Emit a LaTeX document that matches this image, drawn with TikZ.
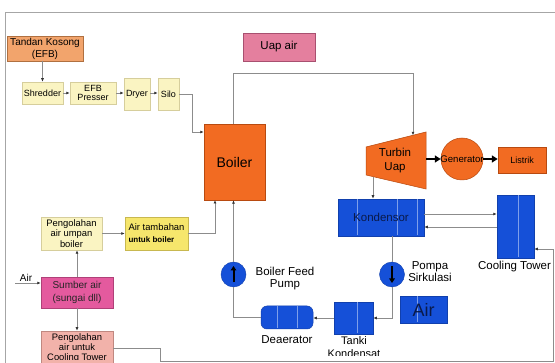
\documentclass[tikz,border=0pt]{standalone}
\usepackage{fontspec}
\setmainfont{Liberation Sans}
\usetikzlibrary{arrows.meta}
\definecolor{tandanC}{HTML}{F2A46C}
\definecolor{tandanD}{HTML}{B07040}
\definecolor{lyelC}{HTML}{FAF4C2}
\definecolor{lyelD}{HTML}{D6CE9C}
\definecolor{yelC}{HTML}{F6E66C}
\definecolor{yelD}{HTML}{C8B850}
\definecolor{uapC}{HTML}{E47F9E}
\definecolor{uapD}{HTML}{A85070}
\definecolor{orC}{HTML}{F26B22}
\definecolor{orD}{HTML}{B84A10}
\definecolor{blC}{HTML}{1550D8}
\definecolor{magC}{HTML}{E45A9E}
\definecolor{magD}{HTML}{B04078}
\definecolor{salC}{HTML}{F2B2AA}
\definecolor{salD}{HTML}{C08880}
\definecolor{lineC}{HTML}{8C8C8C}
\definecolor{navyT}{HTML}{0A1A4A}
\begin{document}
\begin{tikzpicture}[x=1pt,y=-1pt,
  box/.style={rectangle, inner sep=0pt, align=center, line width=0.5pt},
  lyel/.style={box, fill=lyelC, draw=lyelD},
  blu/.style={box, fill=blC, draw=blC!80!black, text=navyT},
  ora/.style={box, fill=orC, draw=orD},
  fa/.style={font=\fontsize{9}{10}\selectfont},
  fb/.style={font=\fontsize{10}{12}\selectfont},
  lbl/.style={inner sep=0pt, align=center, font=\fontsize{11.5}{12}\selectfont},
  conn/.style={draw=lineC, line width=0.7pt, -{Latex[length=3.5pt,width=3pt,color=black!80]}},
  pline/.style={draw=lineC, line width=0.7pt},
  seam/.style={draw=blC!55!white, line width=0.4pt},
  thickarr/.style={draw=black, line width=1.8pt, -{Triangle[length=6pt,width=7pt]}},
  pumpc/.style={circle, fill=blC, draw=blC!80!black, minimum size=25pt, inner sep=0pt},
  pumparr/.style={draw=black, line width=2pt, -{Triangle[length=4.5pt,width=5.5pt]}}
]
\useasboundingbox (0,0) rectangle (555,363);
\clip (0,0) rectangle (555,363);
\fill[white] (0,0) rectangle (555,363);
% frame
\draw[draw=gray!70, line width=0.8pt] (5,363) -- (5,12) -- (555,12);

% feed line
\node[box, fill=tandanC, draw=tandanD, minimum width=76, minimum height=25, fb] (tandan) at (45,48.5) {Tandan Kosong\\(EFB)};
\node[lyel, minimum width=41, minimum height=22, fa] (shred) at (42.5,93) {Shredder};
\node[lyel, minimum width=46, minimum height=22, font=\fontsize{9}{9.5}\selectfont] (presser) at (93,93) {EFB\\Presser};
\node[lyel, minimum width=26, minimum height=32, fa] (dryer) at (137,94) {Dryer};
\node[lyel, minimum width=21, minimum height=32, fa] (silo) at (168.5,94) {Silo};

\node[box, fill=uapC, draw=uapD, minimum width=72, minimum height=28, font=\fontsize{11.5}{12}\selectfont] (uap) at (279,47) {Uap air};

\node[ora, minimum width=61, minimum height=76, font=\fontsize{14}{15}\selectfont] (boiler) at (234.5,162) {Boiler};

% turbine
\filldraw[fill=orC, draw=orD, line width=0.5pt] (366,147) -- (426,132) -- (426,189) -- (366,175) -- cycle;
\node[lbl, font=\fontsize{11.5}{14}\selectfont] (turbin) at (395,160.5) {Turbin\\Uap};
\coordinate (tTop) at (413,135.3);
\coordinate (tRight) at (426,159);
\coordinate (tBot) at (373,176.6);

\node[circle, fill=orC, draw=orD, line width=0.5pt, minimum size=42pt, inner sep=0pt] (gen) at (462,159) {};
\node[ora, minimum width=48, minimum height=26, fa] (listrik) at (522,160) {Listrik};

\node[blu, minimum width=86, minimum height=37, font=\fontsize{11.5}{12}\selectfont] (kond) at (381,217.5) {};
\draw[seam] (357,199.5) -- (357,235.5) (397,199.5) -- (397,235.5) (417,199.5) -- (417,235.5);
\node[inner sep=0pt, font=\fontsize{11.5}{12}\selectfont, text=navyT] (kondl) at (381,217.5) {Kondensor};
\node[blu, minimum width=37, minimum height=63] (ct) at (515.5,226.5) {};
\draw[seam] (518,195.5) -- (518,257.5);
\node[lbl] (ctl) at (514.5,266.5) {Cooling Tower};

% pumps
\node[pumpc] (bfp) at (233.5,274.5) {};
\node[lbl, font=\fontsize{11.5}{11.5}\selectfont] (bfpl) at (285,278.5) {Boiler Feed\\Pump};
\node[pumpc] (ps) at (392,274.5) {};
\node[lbl, font=\fontsize{11.5}{12.5}\selectfont] (psl) at (430,271.5) {Pompa\\Sirkulasi};

\node[blu, minimum width=39, minimum height=32] (tanki) at (353.5,318) {};
\draw[seam] (357,302.5) -- (357,333.5);
\node[lbl, font=\fontsize{11}{12}\selectfont] (tankil) at (354,340.5) {Tanki};
\begin{scope}
\clip (300,340) rectangle (420,355.5);
\node[lbl, font=\fontsize{11}{12}\selectfont] (kondsl) at (354,354) {Kondensat};
\end{scope}
\node[box, fill=blC, draw=blC!80!black, rounded corners=6pt, minimum width=52, minimum height=23] (deaer) at (287,317.5) {};
\draw[seam] (277,306.5) -- (277,328.5) (297,306.5) -- (297,328.5);
\node[lbl] (deaerl) at (287,340) {Deaerator};
\node[blu, minimum width=47, minimum height=27] (airbox) at (423.5,309.5) {};
\draw[seam] (417,296.5) -- (417,322.5);
\node[inner sep=0pt, font=\fontsize{18}{18}\selectfont, text=navyT] (airboxl) at (423.5,309.5) {Air};

% water treatment
\node[lyel, minimum width=61, minimum height=33, font=\fontsize{9.4}{10.5}\selectfont] (pengB) at (71.5,233.5) {Pengolahan\\air umpan\\boiler};
\node[box, fill=yelC, draw=yelD, minimum width=63, minimum height=33, align=left] (airtam) at (156.5,233.5) {\fontsize{9.4}{9.5}\selectfont Air tambahan\\\fontsize{8}{9.5}\selectfont\bfseries untuk boiler};
\node[box, fill=magC, draw=magD, minimum width=72, minimum height=31, font=\fontsize{10}{13}\selectfont, text=black!85] (sumber) at (77,292.5) {Sumber air\\(sungai dll)};
\node[lbl, fb] (airl) at (26,277.5) {Air};
\coordinate (airin) at (15,283);
\node[box, fill=salC, draw=salD, minimum width=72, minimum height=40] (pengCT) at (77,351) {};
\begin{scope}
\clip (30,320) rectangle (120,360);
\node[lbl, font=\fontsize{9.4}{9.6}\selectfont] (pengCTl) at (77,348) {Pengolahan\\air untuk\\Cooling Tower};
\end{scope}

% connectors
\draw[conn] (shred.north |- tandan.south) -- (shred.north);
\draw[conn] (shred.east) -- (presser.west);
\draw[conn] (presser.east) -- (dryer.west |- presser.east);
\draw[conn] (dryer.east |- presser.east) -- (silo.west |- presser.east);
\coordinate (silobend) at (192,132);
\draw[conn] (silo.east) -| (silobend) -- (boiler.west |- silobend);
\coordinate (steam1) at (233,73);
\draw[conn] (boiler.north -| steam1) -- (steam1) -| (tTop);
\draw[thickarr] (tRight) -- (gen.west);
\node[inner sep=0pt, font=\fontsize{9.6}{10}\selectfont] (genl) at (462,159) {Generator};
\draw[thickarr] (gen.east) -- (listrik.west |- gen.east);
\draw[conn] (tBot) -- (tBot |- kond.north);
\draw[conn] (kond.east |- 0,214) -- (ct.west |- 0,214);
\draw[conn] (ct.west |- 0,227) -- (kond.east |- 0,227);
\draw[pline] (ps.north |- kond.south) -- (ps.north);
\draw[conn] (ps.south) |- (tanki.east);
\draw[conn] (tanki.west) -- (deaer.east |- tanki.west);
\draw[pline] (deaer.west) -| (bfp.south);
\draw[conn] (bfp.north) -- (bfp.north |- boiler.south);
\coordinate (bIn) at (215,200);
\draw[conn] (airtam.east) -| (bIn);
\draw[conn] (pengB.east) -- (airtam.west);
\draw[conn] (sumber.north) -- (sumber.north |- pengB.south);
\draw[conn] (sumber.south) -- (pengCT.north);
\draw[conn] (airin) -- (sumber.west |- airin);
\coordinate (b1) at (160,348);
\coordinate (b2) at (160,361);
\coordinate (b3) at (553,361);
\coordinate (b4) at (553,249);
\draw[conn] (pengCT.east |- b1) -- (b1) -- (b2) -- (b3) -- (b4) -- (ct.east |- b4);

% pump arrows
\draw[pumparr] (233.5,282.5) -- (233.5,266);
\draw[pumparr] (392,266.5) -- (392,283);
\end{tikzpicture}
\end{document}
